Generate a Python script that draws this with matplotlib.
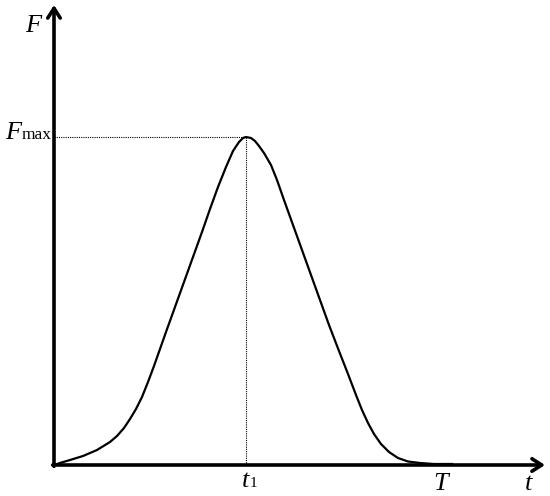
import numpy as np
import matplotlib.pyplot as plt

plt.rcParams['font.family'] = ['Liberation Serif', 'DejaVu Serif']
plt.rcParams['mathtext.fontset'] = 'custom'
plt.rcParams['mathtext.rm'] = 'Liberation Serif'
plt.rcParams['mathtext.it'] = 'Liberation Serif:italic'

# force curve (t, F)
t_vals = [0, 6, 16, 29, 43, 56, 63, 70, 76, 82, 88, 94, 100, 106, 112, 121, 130, 139,
          148, 156, 164, 172, 179, 185, 189, 192, 197, 201, 205, 210, 217, 223, 230,
          239, 248, 257, 266, 275, 285, 294, 302, 308, 314, 320, 327, 335, 344, 354,
          366, 380, 398]
f_vals = [0, 2, 5, 9, 15, 23, 29, 37, 46, 56, 68, 83, 99, 116, 133, 158, 183, 208,
          233, 256, 278, 298, 314, 323, 327, 328, 327, 324, 319, 312, 300, 285, 265,
          240, 215, 190, 165, 140, 114, 91, 70, 55, 42, 31, 21, 13, 7, 3.5,
          2, 1, 1]

t_peak = 192
f_peak = 328
t_end = 386

fig = plt.figure(figsize=(5.5, 4.96), dpi=100)
ax = fig.add_axes([0, 0, 1, 1])
ax.set_xlim(-54, 496)
ax.set_ylim(-31, 465)
ax.axis('off')

# axes with arrows
arrow = dict(arrowstyle='->,head_length=0.7,head_width=0.45', lw=2.6, color='black',
             shrinkA=0, shrinkB=0)
ax.annotate('', xy=(491, 0), xytext=(-1.3, 0), arrowprops=arrow)
ax.annotate('', xy=(0, 460), xytext=(0, -1.3), arrowprops=arrow)

# the curve
ax.plot(t_vals, f_vals, color='black', lw=1.6, solid_joinstyle='round')

# guide lines to the peak
ax.plot([0, t_peak], [f_peak, f_peak], color='black', lw=0.8, ls=(0, (1, 1)))
ax.plot([t_peak, t_peak], [0, f_peak], color='black', lw=0.8, ls=(0, (1, 1)))

# labels
ax.text(-29, 433, r'$F$', fontsize=19, ha='left', va='baseline')
ax.text(-49, 326, r'$F$', fontsize=19, ha='left', va='baseline')
ax.text(-32, 326, 'max', fontsize=12.5, ha='left', va='baseline')
ax.text(t_peak - 5, -22, r'$t$', fontsize=19, ha='left', va='baseline')
ax.text(t_peak + 4, -22, '1', fontsize=11, ha='left', va='baseline')
ax.text(t_end - 7, -25, r'$T$', fontsize=19, ha='left', va='baseline')
ax.text(470, -25, r'$t$', fontsize=19, ha='left', va='baseline')

fig.savefig('out.png', dpi=100)
